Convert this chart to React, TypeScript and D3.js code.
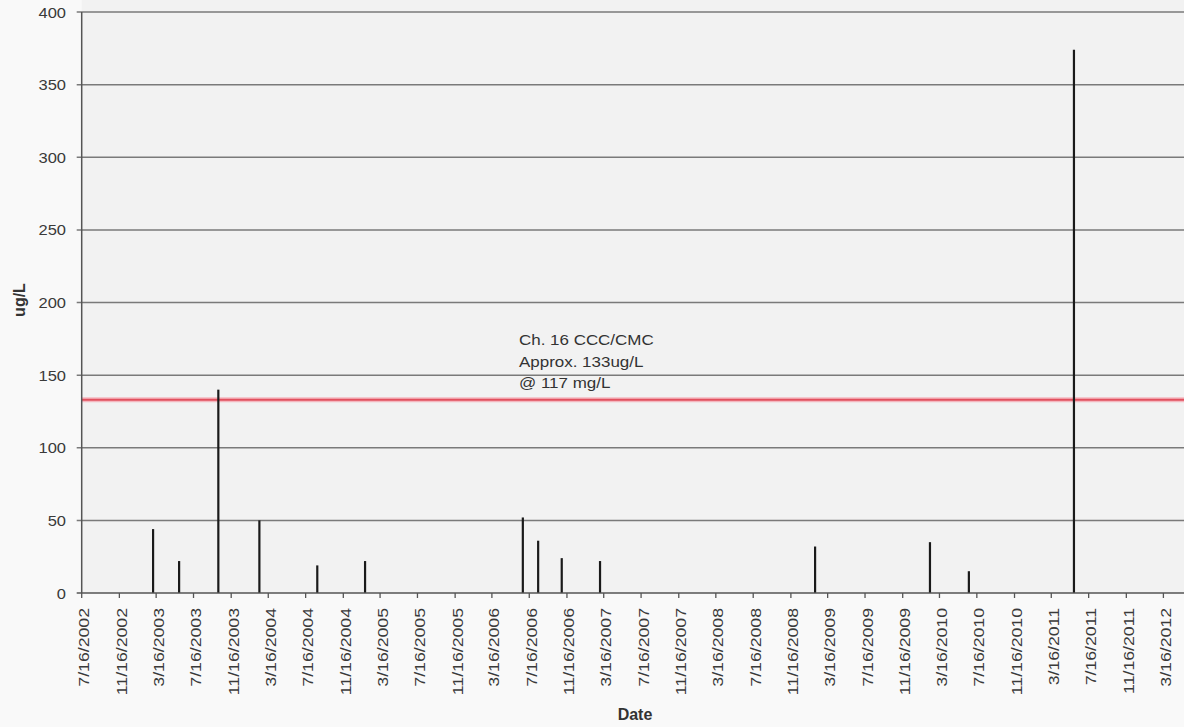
import React from "react";
import * as d3 from "d3";

const sampleDates: string[] = [
  "2003-03-06", "2003-05-30", "2003-10-05", "2004-02-16", "2004-08-23", "2005-01-26",
  "2006-06-25", "2006-08-14", "2006-10-30", "2007-03-04", "2009-02-03", "2010-02-13",
  "2010-06-20", "2011-05-29",
];
const sampleValues: number[] = [44, 22, 140, 50, 19, 22, 52, 36, 24, 22, 32, 35, 15, 374];
const yTicks: number[] = [0, 50, 100, 150, 200, 250, 300, 350, 400];
const criterionValue = 133;
const annotationLines: string[] = ["Ch. 16 CCC/CMC", "Approx. 133ug/L", "@ 117 mg/L"];

const parse = (s: string) => {
  const [y, m, d] = s.split("-").map(Number);
  return new Date(y, m - 1, d);
};

const W = 1184;
const H = 727;
const x0 = 81.7;
const xEndTick = 1163.4;
const yBottom = 593;
const yTop = 12;

export default function App() {
  const start = new Date(2002, 6, 16);
  const lastTick = new Date(2012, 2, 16);
  const x = d3.scaleTime().domain([start, lastTick]).range([x0, xEndTick]);
  const y = d3.scaleLinear().domain([0, 400]).range([yBottom, yTop]);

  const xTicks: Date[] = [];
  for (let i = 0; ; i++) {
    const t = d3.timeMonth.offset(start, i * 4);
    if (t > lastTick) break;
    xTicks.push(t);
  }
  const fmt = (d: Date) => `${d.getMonth() + 1}/${d.getDate()}/${d.getFullYear()}`;
  const font = "Liberation Sans, Arial, sans-serif";

  return (
    <svg
      width={W}
      height={H}
      style={{ position: "absolute", left: 0, top: 0, background: "#f9f9f9" }}
      fontFamily={font}
    >
      <rect x={x0} y={0} width={W - x0} height={yBottom} fill="#f2f2f2" />
      {/* gridlines */}
      {yTicks.map((t) => (
        <g key={t}>
          {t > 0 && (
            <line x1={x0 - 5} x2={W} y1={y(t)} y2={y(t)} stroke="#7a7a7a" strokeWidth={1.5} />
          )}
          <text
            x={0}
            y={0}
            transform={`translate(66,${y(t) + 5.5}) scale(1.1,1)`}
            textAnchor="end"
            fontSize={15}
            fill="#3a3a3a"
          >
            {t}
          </text>
        </g>
      ))}
      {/* criterion line */}
      <line x1={x0} x2={W} y1={y(criterionValue)} y2={y(criterionValue)} stroke="#f4b8c0" strokeWidth={5} />
      <line x1={x0} x2={W} y1={y(criterionValue)} y2={y(criterionValue)} stroke="#e2505e" strokeWidth={2} />
      {/* annotation */}
      {annotationLines.map((s, i) => (
        <text
          key={s}
          x={0}
          y={0}
          transform={`translate(519,${345 + i * 21.5}) scale(1.17,1)`}
          fontSize={14.5}
          fill="#333"
        >
          {s}
        </text>
      ))}
      {/* bars */}
      {sampleDates.map((ds, i) => {
        const xx = x(parse(ds));
        return (
          <line
            key={ds}
            x1={xx}
            x2={xx}
            y1={yBottom}
            y2={y(sampleValues[i])}
            stroke="#1a1a1a"
            strokeWidth={2.2}
          />
        );
      })}
      {/* axes */}
      <line x1={x0} x2={x0} y1={yTop} y2={yBottom} stroke="#555" strokeWidth={1.5} />
      <line x1={x0 - 5} x2={W} y1={yBottom} y2={yBottom} stroke="#555" strokeWidth={1.5} />
      {xTicks.map((t) => {
        const xx = x(t);
        return (
          <g key={t.getTime()}>
            <line x1={xx} x2={xx} y1={yBottom} y2={yBottom + 5} stroke="#555" strokeWidth={1.3} />
            <text
              x={0}
              y={0}
              transform={`translate(${xx + 7.5},${608}) rotate(-90) scale(1.18,1)`}
              textAnchor="end"
              fontSize={15}
              fill="#3a3a3a"
            >
              {fmt(t)}
            </text>
          </g>
        );
      })}
      <text x={635} y={720} textAnchor="middle" fontSize={16} fontWeight="bold" fill="#333">
        Date
      </text>
      <text
        x={0}
        y={0}
        transform={`translate(25,300) rotate(-90)`}
        textAnchor="middle"
        fontSize={16}
        fontWeight="bold"
        fill="#333"
      >
        ug/L
      </text>
    </svg>
  );
}
